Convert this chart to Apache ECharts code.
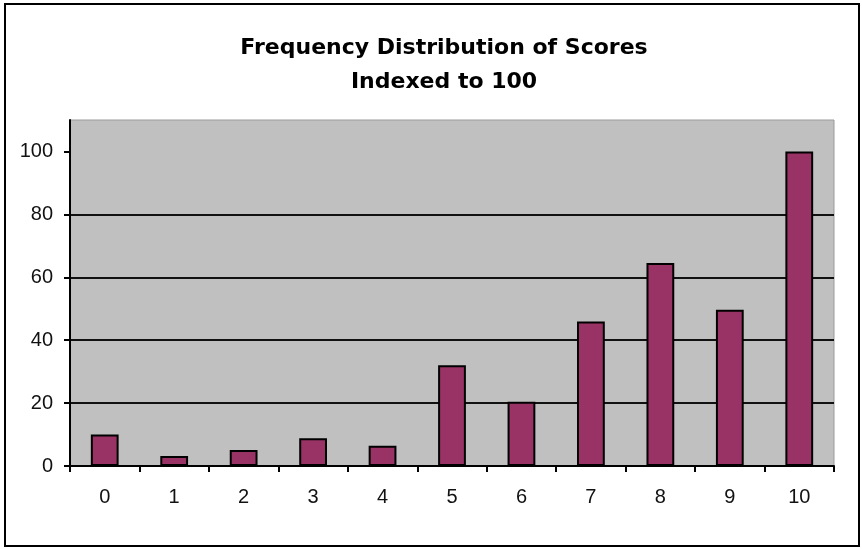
<!DOCTYPE html>
<html>
<head>
<meta charset="utf-8">
<style>html,body{margin:0;padding:0;background:#fff;}#c{width:862px;height:549px;}</style>
<script src="https://cdn.jsdelivr.net/npm/echarts@6/dist/echarts.min.js"></script>
</head>
<body>
<div id="c"></div>
<script>
var categories = ['0','1','2','3','4','5','6','7','8','9','10'];
var values = [10, 3.2, 5.1, 8.8, 6.4, 32, 20.4, 45.9, 64.5, 49.7, 100];
var yTicks = [0, 20, 40, 60, 80, 100];
var titleLines = ['Frequency Distribution of Scores', 'Indexed to 100'];

var chart = echarts.init(document.getElementById('c'), null, {renderer: 'canvas'});
chart.setOption({
  animation: false,
  backgroundColor: '#ffffff',
  title: {
    text: titleLines.join('\n'),
    left: 439,
    textAlign: 'center',
    top: 26,
    textStyle: {fontFamily: '"DejaVu Sans", sans-serif', fontWeight: 'bold', fontSize: 22, lineHeight: 34, color: '#000'}
  },
  graphic: [{
    type: 'rect', silent: true,
    shape: {x: 5, y: 4, width: 854, height: 542},
    style: {fill: 'none', stroke: '#000', lineWidth: 2}
  }],
  grid: {left: 70, top: 120, width: 764, height: 346, show: true, backgroundColor: '#c0c0c0', borderColor: '#9a9a9a', borderWidth: 1},
  xAxis: {
    type: 'category',
    data: categories,
    axisLine: {lineStyle: {color: '#000', width: 2}},
    axisTick: {show: true, length: 6, lineStyle: {color: '#000', width: 2}},
    axisLabel: {fontFamily: '"Liberation Sans", Arial, sans-serif', fontSize: 20, color: '#111', margin: 21},
    splitLine: {show: false}
  },
  yAxis: {
    type: 'value',
    min: 0, max: 110, interval: 20,
    axisLine: {show: true, lineStyle: {color: '#000', width: 2}},
    axisTick: {show: true, length: 6, lineStyle: {color: '#000', width: 2}, customValues: yTicks},
    axisLabel: {fontFamily: '"Liberation Sans", Arial, sans-serif', fontSize: 20, color: '#111', margin: 17, customValues: yTicks},
    splitLine: {show: true, showMinLine: false, showMaxLine: false, lineStyle: {color: '#111', width: 2}}
  },
  series: [{
    type: 'bar',
    data: values,
    barWidth: '40%',
    itemStyle: {color: '#993366', borderColor: '#000', borderWidth: 2}
  }]
});
</script>
</body>
</html>
